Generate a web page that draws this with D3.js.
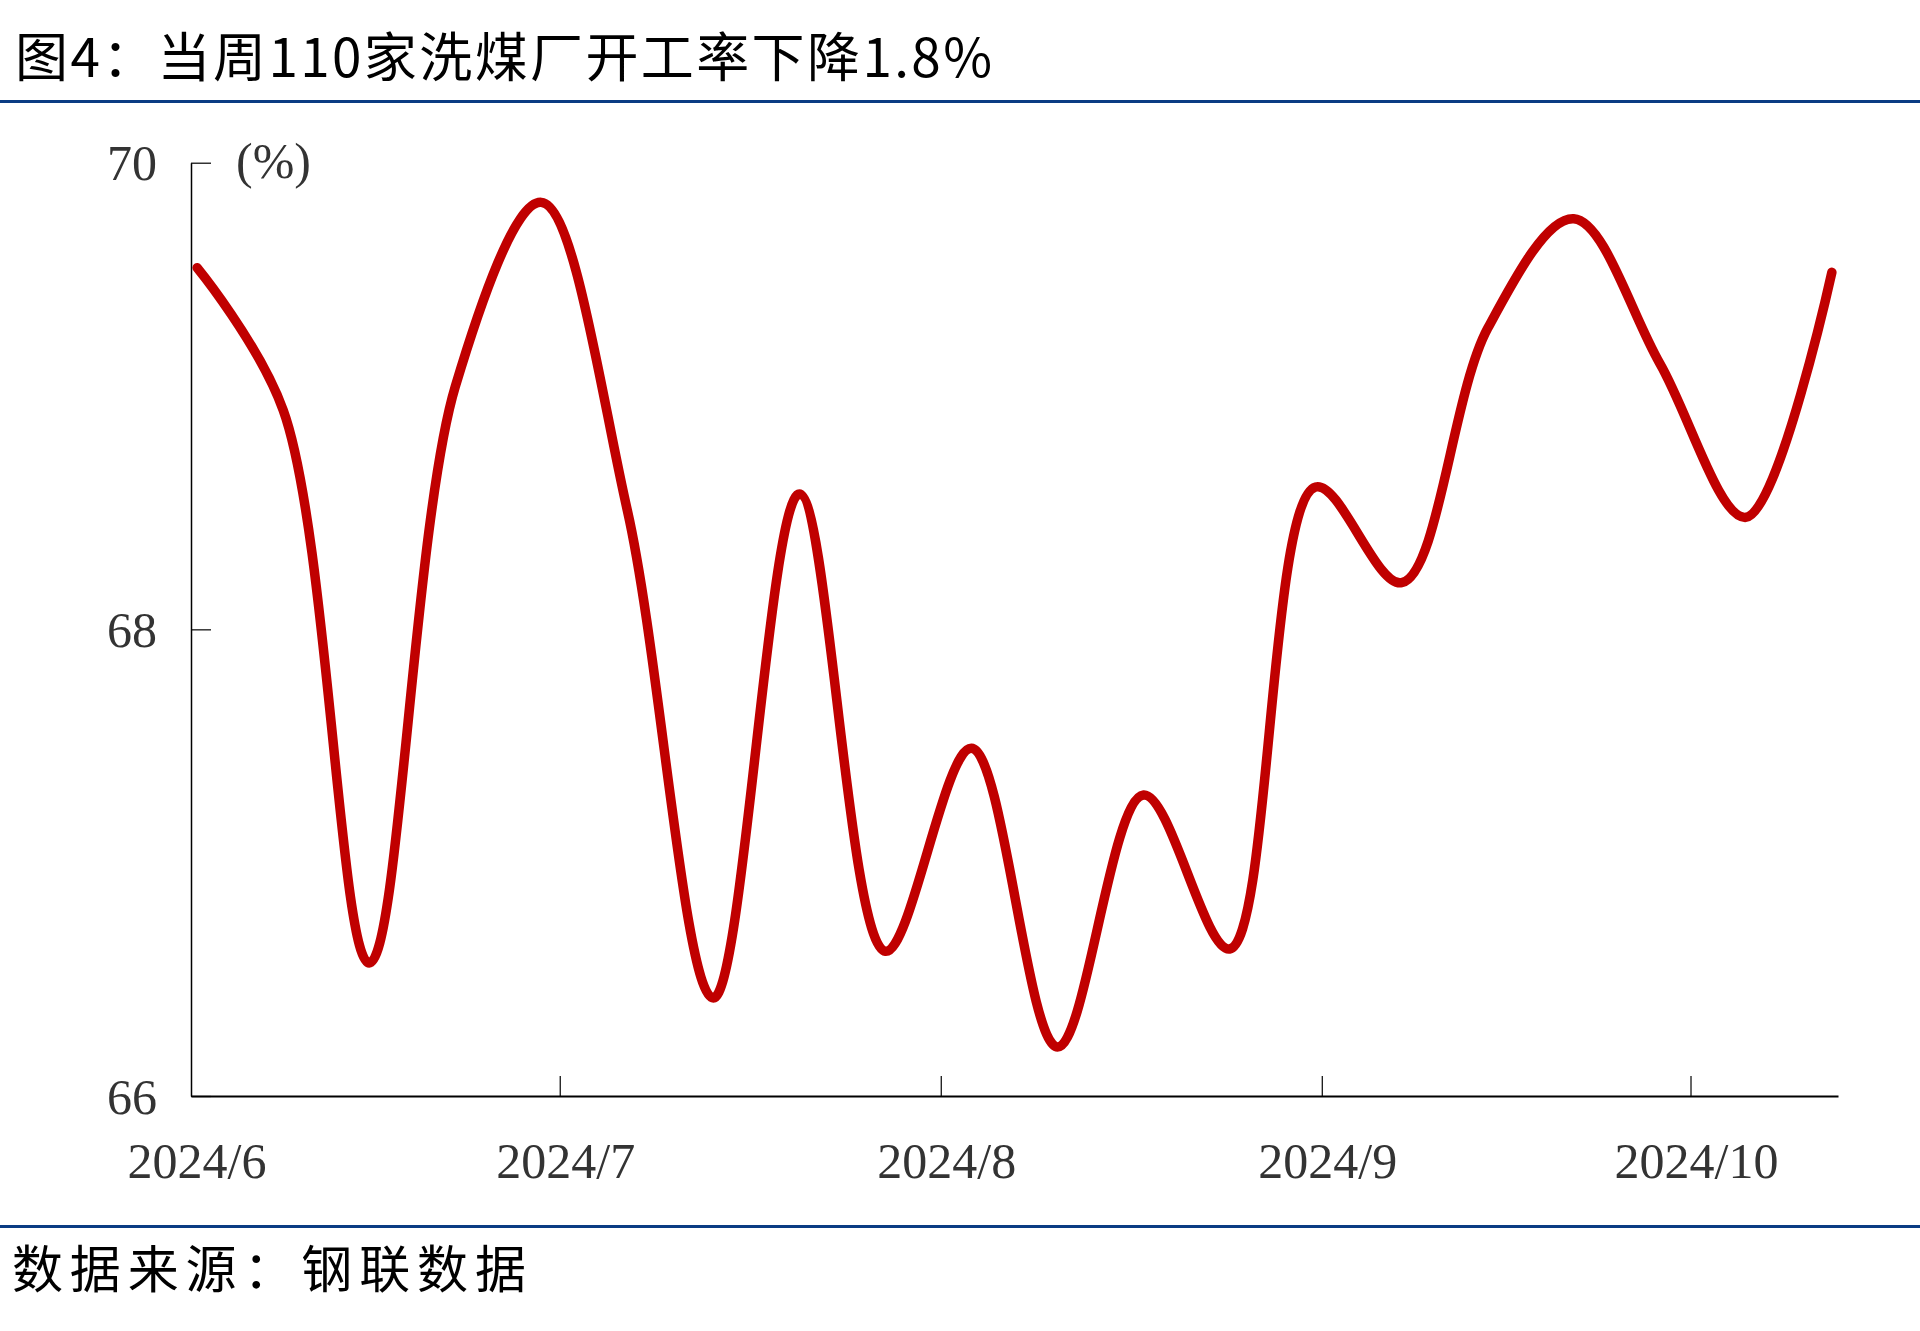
<!DOCTYPE html>
<html>
<head>
<meta charset="utf-8">
<script src="https://cdn.jsdelivr.net/npm/d3@7"></script>
<style>
html, body { margin: 0; padding: 0; background: #fff; }
svg { display: block; }
</style>
</head>
<body>
<svg id="chart" width="1920" height="1331"></svg>
<script>
// ---------- data ----------
const titleText = "图4：当周110家洗煤厂开工率下降1.8%";
const sourceText = "数据来源：钢联数据";
const unitText = "(%)";
const dates = [
  "2024-06-07", "2024-06-14", "2024-06-21", "2024-06-28",
  "2024-07-05", "2024-07-12", "2024-07-19", "2024-07-26",
  "2024-08-02", "2024-08-09", "2024-08-16", "2024-08-23", "2024-08-30",
  "2024-09-06", "2024-09-13", "2024-09-20", "2024-09-27",
  "2024-10-04", "2024-10-11", "2024-10-18"
];
const values = [
  69.55, 68.94, 66.57, 69.04,
  69.83, 68.51, 66.42, 68.58,
  66.62, 67.49, 66.21, 67.29, 66.63,
  68.61, 68.20, 69.29, 69.76,
  69.14, 68.48, 69.53
];
const yTicks = [66, 68, 70];
const xTickLabels = ["2024/6", "2024/7", "2024/8", "2024/9", "2024/10"];

// ---------- setup ----------
const W = 1920, H = 1331;
const svg = d3.select("#chart");
svg.append("rect").attr("width", W).attr("height", H).attr("fill", "#fff");

const parse = d3.utcParse("%Y-%m-%d");
const dateObjs = dates.map(parse);
const data = dateObjs.map((d, i) => ({ date: d, value: values[i] }));

const plot = { left: 191, right: 1838, top: 162.7, bottom: 1096 };

const x = d3.scaleUtc()
  .domain([dateObjs[0], d3.utcDay.offset(dateObjs[dateObjs.length - 1], 1)])
  .range([plot.left, plot.right]);
const y = d3.scaleLinear().domain([66, 70]).range([plot.bottom, plot.top]);

const serif = "'Liberation Serif', 'Times New Roman', serif";
const cjk = "'Noto Sans CJK SC', 'Noto Sans', sans-serif";
const blue = "#0b3c83";

// ---------- title & rules ----------
svg.append("text")
  .attr("x", 15).attr("y", 77)
  .attr("font-family", cjk).attr("font-size", 53)
  .attr("fill", "#000")
  .attr("textLength", 977).attr("lengthAdjust", "spacing")
  .text(titleText);

svg.append("line").attr("x1", 0).attr("x2", W).attr("y1", 101.5).attr("y2", 101.5)
  .attr("stroke", blue).attr("stroke-width", 3);
svg.append("line").attr("x1", 0).attr("x2", W).attr("y1", 1226.5).attr("y2", 1226.5)
  .attr("stroke", blue).attr("stroke-width", 3);

svg.append("text")
  .attr("x", 12).attr("y", 1288)
  .attr("font-family", cjk).attr("font-size", 51)
  .attr("fill", "#000")
  .attr("textLength", 514).attr("lengthAdjust", "spacing")
  .text(sourceText);

// ---------- axes ----------
const tickDates = xTickLabels.map((l, i) => d3.utcMonth.offset(dateObjs[0], i));

const xAxis = d3.axisBottom(x)
  .tickValues(tickDates)
  .tickSizeInner(-20)
  .tickSizeOuter(0)
  .tickFormat((d, i) => xTickLabels[i]);

const gx = svg.append("g").attr("transform", `translate(0,${plot.bottom})`).call(xAxis);
gx.select(".domain").attr("stroke", "#000").attr("stroke-width", 2);
gx.selectAll(".tick line").attr("stroke", "#000").attr("stroke-width", 1.2);
gx.selectAll(".tick text")
  .attr("font-family", serif).attr("font-size", 50).attr("fill", "#333")
  .attr("x", 5.5).attr("y", 82).attr("dy", null);
gx.selectAll(".tick").filter((d, i) => i === 0).select("line").remove();

const yAxis = d3.axisLeft(y)
  .tickValues(yTicks)
  .tickSizeInner(-20)
  .tickSizeOuter(0)
  .tickFormat(d3.format("d"));

const gy = svg.append("g").attr("transform", `translate(${plot.left},0)`).call(yAxis);
gy.select(".domain").attr("stroke", "#000").attr("stroke-width", 1.5);
gy.selectAll(".tick line").attr("stroke", "#000").attr("stroke-width", 1.2);
gy.selectAll(".tick text")
  .attr("font-family", serif).attr("font-size", 50).attr("fill", "#333")
  .attr("text-anchor", "end")
  .attr("x", -34).attr("dy", null).attr("y", 17);
gx.attr("font-family", null).attr("font-size", null);
gy.attr("font-family", null).attr("font-size", null);

svg.append("text")
  .attr("x", 236).attr("y", 178)
  .attr("font-family", serif).attr("font-size", 50).attr("fill", "#333")
  .text(unitText);

// ---------- line ----------
const line = d3.line()
  .x(d => x(d3.utcHour.offset(d.date, 12)))
  .y(d => y(d.value))
  .curve(d3.curveCatmullRom.alpha(0.5));

svg.append("path")
  .datum(data)
  .attr("d", line)
  .attr("fill", "none")
  .attr("stroke", "#c00000")
  .attr("stroke-width", 9.5)
  .attr("stroke-linecap", "round")
  .attr("stroke-linejoin", "round");
</script>
</body>
</html>
